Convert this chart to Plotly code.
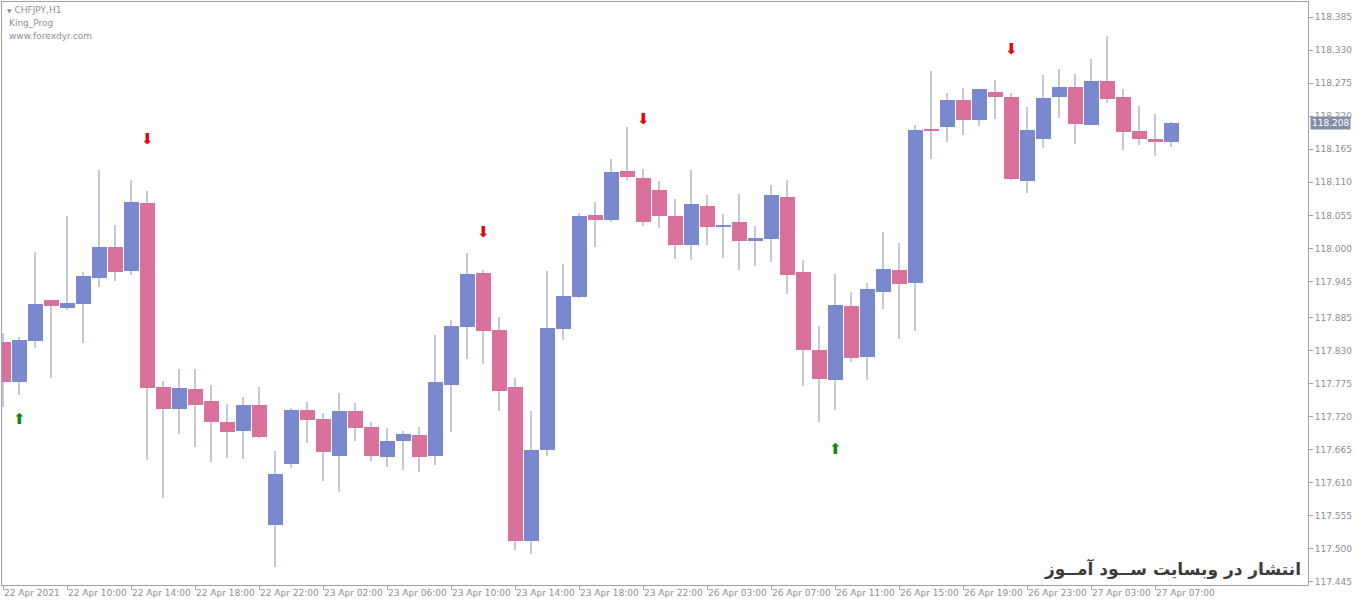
import plotly.graph_objects as go

# ---- data (CHFJPY H1, 22 Apr 2021 06:00 .. 27 Apr 2021 08:00) ----
opens = [117.845, 117.778, 117.846, 117.914, 117.901, 117.907, 117.950, 118.002, 117.963, 118.076,
         117.769, 117.733, 117.766, 117.746, 117.711, 117.697, 117.739, 117.540, 117.641, 117.731,
         117.716, 117.655, 117.729, 117.703, 117.653, 117.680, 117.690, 117.655, 117.773, 117.870,
         117.959, 117.865, 117.769, 117.514, 117.664, 117.866, 117.920, 118.056, 118.047, 118.129,
         118.118, 118.098, 118.054, 118.006, 118.071, 118.035, 118.044, 118.013, 118.016, 118.085,
         117.960, 117.831, 117.781, 117.905, 117.820, 117.928, 117.964, 117.942, 118.199, 118.202,
         118.247, 118.214, 118.261, 118.252, 118.113, 118.182, 118.252, 118.269, 118.206, 118.279,
         118.252, 118.195, 118.182, 118.177]
highs = [117.859, 117.853, 117.994, 117.915, 118.054, 117.961, 118.130, 118.039, 118.114, 118.095,
         117.780, 117.799, 117.799, 117.772, 117.741, 117.752, 117.770, 117.663, 117.734, 117.744,
         117.727, 117.759, 117.743, 117.712, 117.701, 117.697, 117.703, 117.856, 117.881, 117.993,
         117.964, 117.886, 117.784, 117.730, 117.962, 117.974, 118.059, 118.078, 118.148, 118.202,
         118.132, 118.113, 118.082, 118.130, 118.089, 118.058, 118.091, 118.037, 118.105, 118.114,
         117.980, 117.871, 117.957, 117.928, 117.942, 118.028, 118.009, 118.205, 118.295, 118.259,
         118.267, 118.266, 118.280, 118.258, 118.235, 118.289, 118.298, 118.291, 118.315, 118.353,
         118.265, 118.237, 118.224, 118.211]
lows = [117.736, 117.756, 117.834, 117.784, 117.897, 117.842, 117.935, 117.945, 117.956, 117.648,
        117.584, 117.691, 117.670, 117.644, 117.651, 117.649, 117.685, 117.470, 117.634, 117.677,
        117.613, 117.595, 117.680, 117.647, 117.637, 117.631, 117.628, 117.640, 117.695, 117.816,
        117.808, 117.730, 117.498, 117.491, 117.655, 117.848, 117.917, 118.003, 118.044, 118.114,
        118.037, 118.034, 117.982, 117.981, 118.006, 117.984, 117.964, 117.971, 117.978, 117.924,
        117.771, 117.712, 117.732, 117.811, 117.781, 117.900, 117.849, 117.863, 118.148, 118.177,
        118.189, 118.204, 118.215, 118.114, 118.092, 118.167, 118.217, 118.173, 118.205, 118.242,
        118.163, 118.172, 118.154, 118.168]
closes = [117.778, 117.848, 117.907, 117.905, 117.909, 117.954, 118.002, 117.961, 118.077, 117.768,
          117.733, 117.767, 117.740, 117.712, 117.695, 117.739, 117.687, 117.625, 117.731, 117.714,
          117.662, 117.729, 117.702, 117.655, 117.680, 117.691, 117.653, 117.778, 117.871, 117.957,
          117.863, 117.763, 117.514, 117.665, 117.867, 117.921, 118.054, 118.047, 118.127, 118.119,
          118.044, 118.054, 118.006, 118.074, 118.035, 118.039, 118.012, 118.017, 118.089, 117.956,
          117.831, 117.783, 117.906, 117.818, 117.932, 117.966, 117.941, 118.197, 118.196, 118.247,
          118.214, 118.265, 118.252, 118.116, 118.197, 118.251, 118.269, 118.207, 118.279, 118.249,
          118.194, 118.182, 118.177, 118.208]

# time-axis labels (every 4th bar)
label_bars = [0, 4, 8, 12, 16, 20, 24, 28, 32, 36, 40, 44, 48, 52, 56, 60, 64, 68, 72]
label_texts = ["22 Apr 2021", "22 Apr 10:00", "22 Apr 14:00", "22 Apr 18:00", "22 Apr 22:00",
               "23 Apr 02:00", "23 Apr 06:00", "23 Apr 10:00", "23 Apr 14:00", "23 Apr 18:00",
               "23 Apr 22:00", "26 Apr 03:00", "26 Apr 07:00", "26 Apr 11:00", "26 Apr 15:00",
               "26 Apr 19:00", "26 Apr 23:00", "27 Apr 03:00", "27 Apr 07:00"]

# price-axis ticks
price_ticks = [118.385, 118.330, 118.275, 118.220, 118.165, 118.110, 118.055, 118.000, 117.945,
               117.885, 117.830, 117.775, 117.720, 117.665, 117.610, 117.555, 117.500, 117.445]
price_tick_text = ["118.385", "118.330", "118.275", "118.220", "118.165", "118.110", "118.055",
                   "118.000", "117.945", "117.885", "117.830", "117.775", "117.720", "117.665",
                   "117.610", "117.555", "117.500", "117.445"]

# indicator signals
up_bars = [1, 52]
up_prices = [117.714, 117.665]
down_bars = [9, 30, 40, 63]
down_prices = [118.180, 118.026, 118.214, 118.330]

current_price = 118.208

# ---- styles ----
BULL = "#7a89cd"
BEAR = "#d8729d"
WICK = "#c4c8dc"
FRAME = "#9ea3b0"
TXT = "#8a8e9c"

n = len(opens)
xs = list(range(n))
body_base = [min(o, c) for o, c in zip(opens, closes)]
body_h = [abs(c - o) for o, c in zip(opens, closes)]
body_col = [BULL if c >= o else BEAR for o, c in zip(opens, closes)]
wick_h = [h - l for h, l in zip(highs, lows)]

fig = go.Figure()
fig.add_trace(go.Bar(x=xs, y=wick_h, base=lows, width=0.13,
                     marker=dict(color=WICK, line=dict(width=0)), hoverinfo="skip"))
fig.add_trace(go.Bar(x=xs, y=body_h, base=body_base, width=0.92,
                     marker=dict(color=body_col, line=dict(width=0)), hoverinfo="skip"))
fig.add_trace(go.Scatter(x=up_bars, y=up_prices, mode="text", text=["⬆"] * len(up_bars),
                         textfont=dict(color="#0a8a0a", size=15, family="DejaVu Sans"),
                         hoverinfo="skip"))
fig.add_trace(go.Scatter(x=down_bars, y=down_prices, mode="text", text=["⬇"] * len(down_bars),
                         textfont=dict(color="#e8000b", size=15, family="DejaVu Sans"),
                         hoverinfo="skip"))

annotations = []
for b, t in zip(label_bars, label_texts):
    annotations.append(dict(x=b, y=0, xref="x", yref="paper", text=t, showarrow=False,
                            xanchor="left", yanchor="top", xshift=-1, yshift=-1,
                            font=dict(family="DejaVu Sans", size=9, color=TXT)))
annotations.append(dict(x=1, y=current_price, xref="paper", yref="y", text="118.208",
                        showarrow=False, xanchor="left", yanchor="middle", xshift=2,
                        bgcolor="#858ea8", borderpad=1,
                        font=dict(family="DejaVu Sans", size=9, color="white")))
annotations.append(dict(x=0, y=1, xref="paper", yref="paper",
                        text="<span style='font-size:6px'>▼</span> CHFJPY,H1",
                        showarrow=False, xanchor="left", yanchor="top", xshift=3, yshift=-1,
                        font=dict(family="DejaVu Sans", size=9, color="#8c8f98")))
annotations.append(dict(x=0, y=1, xref="paper", yref="paper", text="King_Prog",
                        showarrow=False, xanchor="left", yanchor="top", xshift=5, yshift=-14,
                        font=dict(family="DejaVu Sans", size=9, color="#8c8f98")))
annotations.append(dict(x=0, y=1, xref="paper", yref="paper", text="www.forexdyr.com",
                        showarrow=False, xanchor="left", yanchor="top", xshift=5, yshift=-27,
                        font=dict(family="DejaVu Sans", size=9, color="#8c8f98")))
annotations.append(dict(x=1, y=0, xref="paper", yref="paper",
                        text="<b>انتشار در وبسایت ســود آمــوز</b>",
                        showarrow=False, xanchor="right", yanchor="bottom", xshift=-5, yshift=3,
                        font=dict(family="DejaVu Sans", size=17, color="#3c3c3c")))

fig.update_layout(
    width=1358, height=606,
    margin=dict(l=2, r=50, t=2, b=21),
    paper_bgcolor="white", plot_bgcolor="white",
    barmode="overlay", bargap=0,
    showlegend=False,
    annotations=annotations,
    xaxis=dict(range=[-0.081, 81.54], showgrid=False, zeroline=False,
               tickmode="array", tickvals=label_bars, showticklabels=False,
               ticks="outside", ticklen=4, tickcolor=FRAME,
               showline=True, linecolor=FRAME, linewidth=1, mirror=True, fixedrange=True),
    yaxis=dict(range=[117.440, 118.410], side="right", showgrid=False, zeroline=False,
               tickmode="array", tickvals=price_ticks, ticktext=price_tick_text,
               ticks="outside", ticklen=4, tickcolor=FRAME,
               tickfont=dict(family="DejaVu Sans", size=9, color=TXT),
               showline=True, linecolor=FRAME, linewidth=1, mirror=True, fixedrange=True),
)

fig.write_html("out.html", config={"displayModeBar": False},
               post_script="document.body.style.margin='0px';document.body.style.overflow='hidden';")
